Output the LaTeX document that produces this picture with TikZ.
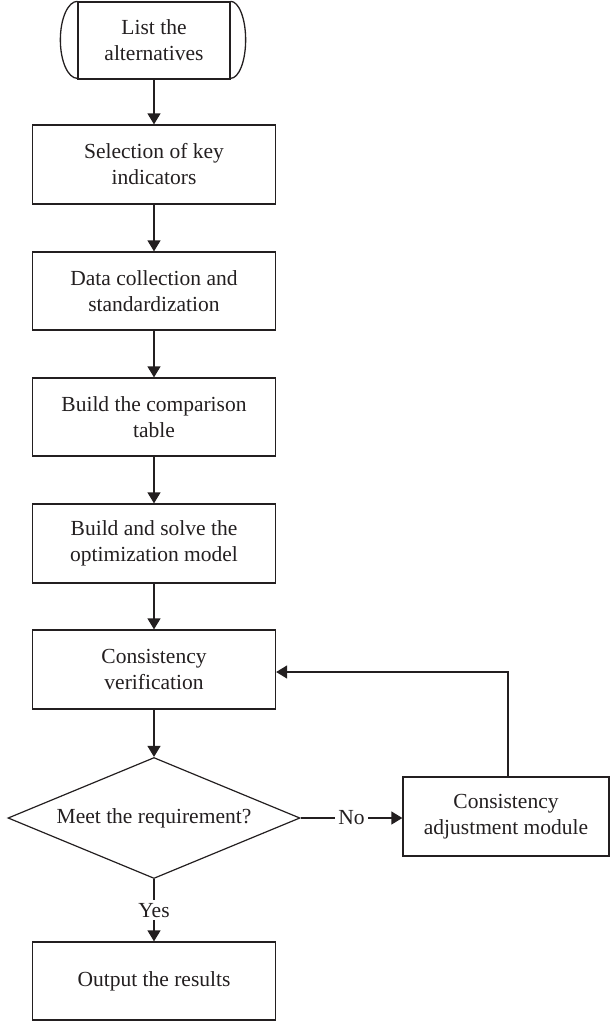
\documentclass[tikz,border=0pt]{standalone}
\usepackage{fontspec}
\setmainfont{Liberation Serif}
\usetikzlibrary{shapes.geometric,arrows.meta}
\definecolor{ink}{HTML}{231F20}
\begin{document}
\begin{tikzpicture}[x=1pt,y=-1pt,
  every node/.style={font=\fontsize{21.5}{26}\selectfont, text=ink},
  proc/.style={draw=ink, line width=1.3pt, rectangle, align=center, inner sep=0pt,
     minimum width=243pt, minimum height=78pt},
  dec/.style={draw=ink, line width=1.2pt, diamond, inner sep=0pt, aspect=2.41,
     minimum width=292pt, minimum height=121pt},
  conn/.style={draw=ink, line width=1.3pt},
  arr/.style={conn, -{Triangle[width=13pt,length=11pt]}},
  lbl/.style={fill=white, inner sep=3pt}
]
\useasboundingbox (0,0) rectangle (610,1021);
\node[proc, minimum width=152pt, minimum height=77pt] (b1) at (154,40.5) {List the\\alternatives};
\draw[conn] (b1.north west) arc[start angle=90, end angle=270, x radius=17pt, y radius=38.5pt];
\draw[conn] (b1.north east) arc[start angle=90, end angle=-90, x radius=15pt, y radius=38.5pt];
\node[proc, minimum height=79pt] (b2) at (154,164.5) {Selection of key\\indicators};
\node[proc] (b3) at (154,291) {Data collection and\\standardization};
\node[proc] (b4) at (154,417) {Build the comparison\\table};
\node[proc, minimum height=79pt] (b5) at (154,543.5) {Build and solve the\\optimization model};
\node[proc, minimum height=79pt] (b6) at (154,669.5) {Consistency\\verification};
\node[dec] (d) at (154,818) {Meet the requirement?};
\node[proc, minimum width=206pt, minimum height=79pt] (r) at (506,816.5) {Consistency\\adjustment module};
\node[proc] (out) at (154,981) {Output the results};
\draw[arr] (b1) -- (b2);
\draw[arr] (b2) -- (b3);
\draw[arr] (b3) -- (b4);
\draw[arr] (b4) -- (b5);
\draw[arr] (b5) -- (b6);
\draw[arr] (b6) -- (d.north);
\draw[arr] (d.south) -- node[lbl] {Yes} (out.north);
\draw[arr] (d.east) -- node[lbl] {No} (r.west |- d.east);
\draw[arr] ([xshift=2pt]r.north) |- ([yshift=-2.5pt]b6.east);
\end{tikzpicture}
\end{document}
